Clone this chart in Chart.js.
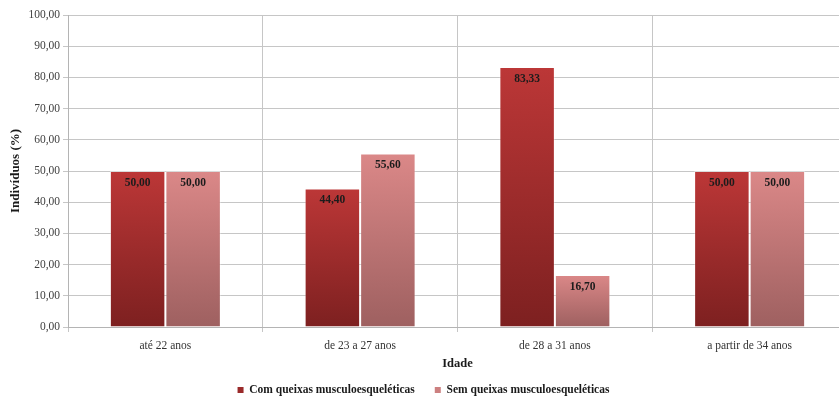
<!DOCTYPE html>
<html>
<head>
<meta charset="utf-8">
<script src="https://cdn.jsdelivr.net/npm/chart.js@4.4.1/dist/chart.umd.min.js"></script>
<style>
  html, body { margin: 0; padding: 0; background: #fff; overflow: hidden; }
  #wrap { position: relative; width: 847px; height: 396px; }
</style>
</head>
<body>
<div id="wrap"><canvas id="c"></canvas></div>
<script>
// Age groups and share of individuals (%) in each group
const categories = ['até 22 anos', 'de 23 a 27 anos', 'de 28 a 31 anos', 'a partir de 34 anos'];
const comQueixas = [50.00, 44.40, 83.33, 50.00];
const semQueixas = [50.00, 55.60, 16.70, 50.00];
const seriesNames = ['Com queixas musculoesqueléticas', 'Sem queixas musculoesqueléticas'];
const yTicks = [0, 10, 20, 30, 40, 50, 60, 70, 80, 90, 100];

const SERIF = '"Liberation Serif", "Times New Roman", serif';
const fmt = v => v.toFixed(2).replace('.', ',');

// vertical gradient running from the top of each bar down to the baseline
function barGradient(topColor, bottomColor) {
  return function (ctx) {
    const chart = ctx.chart;
    const area = chart.chartArea;
    if (!area || ctx.type !== 'data') return topColor;
    const y = chart.scales.y;
    const top = y.getPixelForValue(ctx.raw);
    const bottom = y.getPixelForValue(0);
    const g = chart.ctx.createLinearGradient(0, top, 0, bottom);
    g.addColorStop(0, topColor);
    g.addColorStop(1, bottomColor);
    return g;
  };
}

// writes each value just inside the top of its bar
const valueLabels = {
  id: 'valueLabels',
  afterDatasetsDraw(chart) {
    const c = chart.ctx;
    c.save();
    c.font = 'bold 11.5px ' + SERIF;
    c.fillStyle = '#1c1c1c';
    c.textAlign = 'center';
    c.textBaseline = 'middle';
    chart.data.datasets.forEach((ds, i) => {
      chart.getDatasetMeta(i).data.forEach((bar, j) => {
        c.fillText(fmt(ds.data[j]), bar.x, bar.y + 12);
      });
    });
    c.restore();
  }
};

new Chart(document.getElementById('c'), {
  type: 'bar',
  data: {
    labels: categories,
    datasets: [
      {
        label: seriesNames[0],
        data: comQueixas,
        backgroundColor: barGradient('#bc3737', '#7d2020'),
        borderColor: 'rgba(255,255,255,0.35)',
        borderWidth: 1,
        categoryPercentage: 0.57,
        barPercentage: 1.0
      },
      {
        label: seriesNames[1],
        data: semQueixas,
        backgroundColor: barGradient('#db8888', '#9e6060'),
        borderColor: 'rgba(255,255,255,0.35)',
        borderWidth: 1,
        categoryPercentage: 0.57,
        barPercentage: 1.0
      }
    ]
  },
  options: {
    responsive: true,
    maintainAspectRatio: false,
    animation: false,
    layout: { padding: { top: 15, left: 0, right: 0, bottom: 0 } },
    plugins: {
      tooltip: { enabled: false },
      legend: {
        position: 'bottom',
        maxHeight: 31.75,
        labels: {
          font: { family: SERIF, size: 11.5, weight: 'bold' },
          color: '#1a1a1a',
          boxWidth: 6,
          boxHeight: 6,
          padding: 20,
          generateLabels(chart) {
            const cols = ['#9a2a2a', '#cc8080'];
            return chart.data.datasets.map((ds, i) => ({
              text: ds.label,
              fillStyle: cols[i],
              strokeStyle: cols[i],
              lineWidth: 0,
              datasetIndex: i,
              fontColor: '#1a1a1a'
            }));
          }
        }
      }
    },
    scales: {
      x: {
        grid: { color: '#c6c6c6', lineWidth: 1, tickLength: 5, drawOnChartArea: true, offset: true },
        border: { color: '#b4b4b4' },
        ticks: { font: { family: SERIF, size: 11.5 }, color: '#333', padding: 7 },
        title: {
          display: true,
          text: 'Idade',
          font: { family: SERIF, size: 12.5, weight: 'bold' },
          color: '#1a1a1a',
          padding: { top: 0, bottom: -7 }
        },
        afterFit(s) { s.height = 37.25; }
      },
      y: {
        min: 0,
        max: 100,
        afterBuildTicks(s) { s.ticks = yTicks.map(v => ({ value: v })); },
        grid: { color: '#c6c6c6', lineWidth: 1, tickLength: 5 },
        border: { color: '#b4b4b4' },
        ticks: {
          font: { family: SERIF, size: 11.5 },
          color: '#404040',
          padding: 3,
          callback: v => fmt(v)
        },
        title: {
          display: true,
          text: 'Indivíduos (%)',
          font: { family: SERIF, size: 13, weight: 'bold' },
          color: '#1a1a1a',
          padding: { top: 8, bottom: 0 }
        },
        afterFit(s) { s.width = 68; }
      }
    }
  },
  plugins: [valueLabels]
});
</script>
</body>
</html>
